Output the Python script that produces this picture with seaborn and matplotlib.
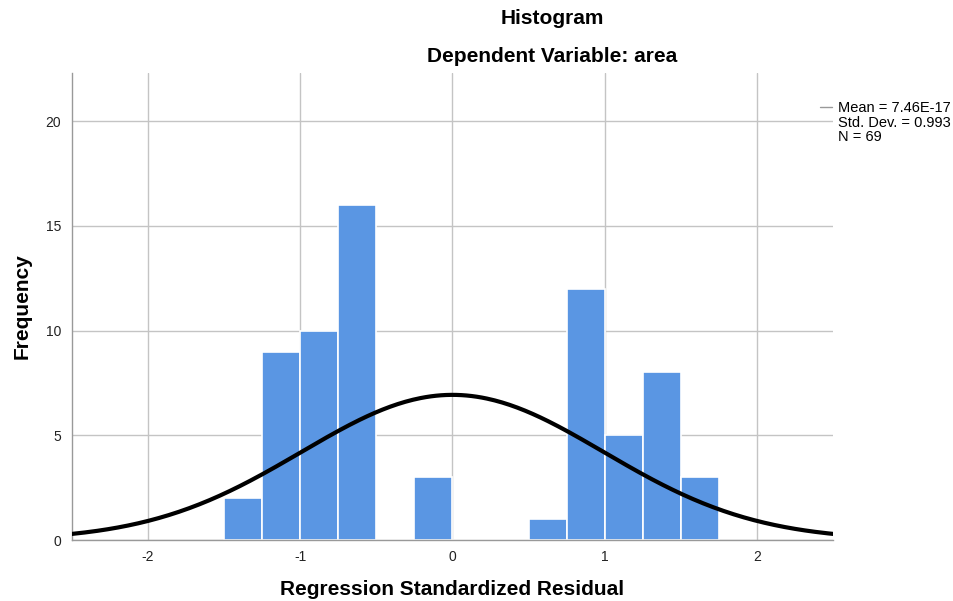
import matplotlib
matplotlib.use("Agg")
import matplotlib.pyplot as plt
import seaborn as sns
import numpy as np
import pandas as pd
from matplotlib.lines import Line2D

# Bin centres (width 0.25) and frequencies
bin_centers = [-1.375, -1.125, -0.875, -0.625, -0.125, 0.625, 0.875, 1.125, 1.375, 1.625]
counts = [2, 9, 10, 16, 3, 1, 12, 5, 8, 3]
bin_width = 0.25

# Stats shown in the legend box
mean_val = 7.46e-17
std_val = 0.993
n_obs = 69

x_ticks = [-2, -1, 0, 1, 2]
y_ticks = [0, 5, 10, 15, 20]

df = pd.DataFrame({"residual": bin_centers, "freq": counts})

# fitted normal curve scaled to frequency
xs = np.linspace(-2.5, 2.5, 300)
ys = n_obs * bin_width * np.exp(-0.5 * ((xs - mean_val) / std_val) ** 2) / (std_val * np.sqrt(2 * np.pi))
curve = pd.DataFrame({"x": xs, "y": ys})

sns.set_style("white")
plt.rcParams['font.family'] = ['Liberation Sans', 'DejaVu Sans']
plt.rcParams['text.color'] = 'black'
plt.rcParams['axes.labelcolor'] = 'black'

fig = plt.figure(figsize=(9.54, 6.01), dpi=100)
ax = fig.add_axes([72 / 954, 1 - 540 / 601, (833 - 72) / 954, (540 - 73) / 601])

sns.histplot(data=df, x="residual", weights="freq", binwidth=bin_width, binrange=(-1.5, 1.75),
             color="#5a96e3", alpha=1, edgecolor="white", linewidth=1.2, ax=ax, zorder=2)
sns.lineplot(data=curve, x="x", y="y", color="black", linewidth=3, ax=ax, zorder=3)

ax.set_xlim(-2.5, 2.5)
ax.set_ylim(0, 22.3)
ax.set_xticks(x_ticks)
ax.set_xticklabels([str(t) for t in x_ticks])
ax.set_yticks(y_ticks)
ax.set_yticklabels([str(t) for t in y_ticks])
ax.tick_params(axis="x", length=0, labelsize=10, pad=7, colors="#222222")
ax.tick_params(axis="y", length=0, labelsize=10, pad=8, colors="#222222")
ax.grid(True, color="#c4c4c4", linewidth=1)
ax.set_axisbelow(True)
for s in ["top", "right"]:
    ax.spines[s].set_visible(False)
for s in ["left", "bottom"]:
    ax.spines[s].set_color("#999999")
    ax.spines[s].set_linewidth(1)

ax.set_xlabel("Regression Standardized Residual", fontsize=15, fontweight="bold", labelpad=12)
ax.set_ylabel("Frequency", fontsize=15, fontweight="bold", labelpad=10)

fig.text(552 / 954, 1 - 19 / 601, "Histogram", ha="center", va="center", fontsize=15, fontweight="bold")
fig.text(552 / 954, 1 - 57 / 601, "Dependent Variable: area", ha="center", va="center",
         fontsize=15, fontweight="bold")

legend_txt = "Mean = 7.46E-17\nStd. Dev. = 0.993\nN = 69"
fig.text(838 / 954, 1 - 101 / 601, legend_txt, ha="left", va="top", fontsize=10.5, linespacing=1.05)
fig.add_artist(Line2D([820 / 954, 832 / 954], [1 - 107 / 601, 1 - 107 / 601], color="#999999", linewidth=1))

fig.savefig("out.png", dpi=100)
